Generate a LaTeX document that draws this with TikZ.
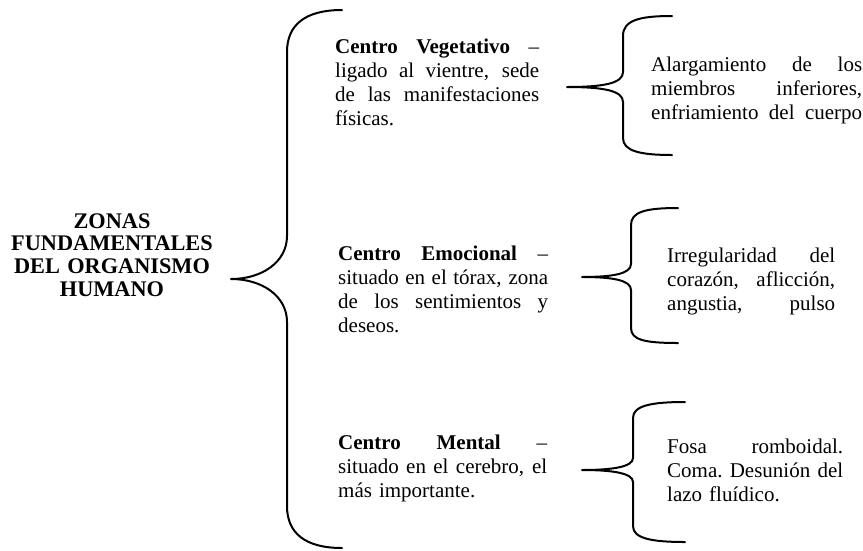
\documentclass[tikz,border=0pt]{standalone}
\usepackage{fontspec}
\setmainfont{Liberation Serif}
\newcommand{\jl}[2]{\leavevmode\hbox to #1{\spaceskip=0.25em plus 1fil\xspaceskip=0.25em plus 1fil\relax #2}}
\tikzset{
  bracestroke/.style={draw=black, line width=2pt, line cap=round, line join=round},
  titletext/.style={anchor=base, inner sep=0pt, text width=240pt, align=center,
    font={\fontsize{22.3}{22.8}\selectfont\bfseries}},
  bodytext/.style={anchor=base west, inner sep=0pt, align=left,
    font={\fontsize{21}{24.2}\selectfont}}
}
\begin{document}
\begin{tikzpicture}[x=1pt, y=-1pt]
\useasboundingbox[fill=white] (0,0) rectangle (863,550);

% title
\node[titletext] (title) at (112,228) {ZONAS\\FUNDAMENTALES\\DEL ORGANISMO\\HUMANO};

% big brace
\draw[bracestroke] (342,10) .. controls (305,10) and (287,25) .. (287,52)
  -- (287,236) .. controls (287,262) and (262,279) .. (231,279)
  .. controls (262,279) and (287,296) .. (287,322)
  -- (287,506) .. controls (287,533) and (305,548) .. (342,548);

% centre texts
\node[bodytext, text width=204pt] (veg) at (335,53)
  {\jl{204pt}{\textbf{Centro} \textbf{Vegetativo} –}\\
   \jl{204pt}{ligado al vientre, sede}\\
   \jl{204pt}{de las manifestaciones}\\
   físicas.};
\node[bodytext, text width=210pt] (emo) at (338,260)
  {\jl{210pt}{\textbf{Centro} \textbf{Emocional} –}\\
   \jl{210pt}{situado en el tórax, zona}\\
   \jl{210pt}{de los sentimientos y}\\
   deseos.};
\node[bodytext, text width=209pt] (men) at (338,449)
  {\jl{209pt}{\textbf{Centro} \textbf{Mental} –}\\
   \jl{209pt}{situado en el cerebro, el}\\
   más importante.};

% small braces
\draw[bracestroke] (672,16) .. controls (640,16) and (623,20) .. (623,36)
  -- (623,72) .. controls (623,83) and (605,87) .. (567,87)
  .. controls (605,87) and (623,91) .. (623,102)
  -- (623,138) .. controls (623,151) and (640,155) .. (672,155);
\draw[bracestroke] (678,208) .. controls (645,208) and (631,212) .. (631,225)
  -- (631,264) .. controls (631,274) and (612,277) .. (582,277)
  .. controls (612,277) and (631,280) .. (631,290)
  -- (631,328) .. controls (631,340) and (645,343) .. (678,343);
\draw[bracestroke] (685,402) .. controls (650,402) and (633,406) .. (633,418)
  -- (633,458) .. controls (633,467) and (612,470) .. (582,470)
  .. controls (612,470) and (633,473) .. (633,482)
  -- (633,526) .. controls (633,538) and (650,542) .. (685,542);

% right texts
\node[bodytext, text width=211pt] (r1) at (651,71)
  {\jl{211pt}{Alargamiento de los}\\
   \jl{211pt}{miembros inferiores,}\\
   \jl{211pt}{enfriamiento del cuerpo}};
\node[bodytext, text width=168pt] (r2) at (667,262)
  {\jl{168pt}{Irregularidad del}\\
   \jl{168pt}{corazón, aflicción,}\\
   \jl{168pt}{angustia, pulso}};
\node[bodytext, text width=176pt] (r3) at (667,453)
  {\jl{176pt}{Fosa romboidal.}\\
   \jl{176pt}{Coma. Desunión del}\\
   lazo fluídico.};
\end{tikzpicture}
\end{document}
